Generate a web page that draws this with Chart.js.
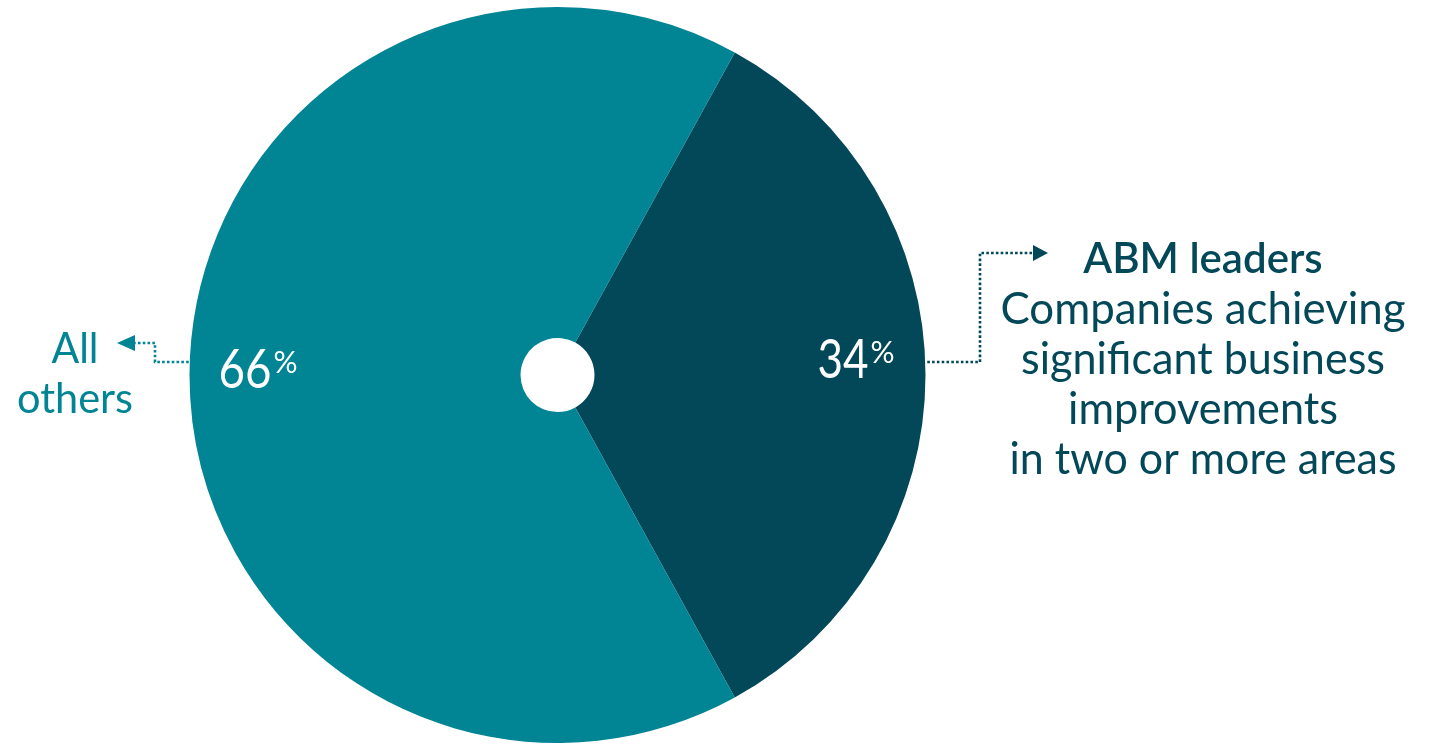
<!DOCTYPE html>
<html>
<head>
<meta charset="utf-8">
<script src="https://cdn.jsdelivr.net/npm/chart.js@4.4.1/dist/chart.umd.min.js"></script>
<style>
  html, body { margin: 0; padding: 0; background: #ffffff; }
  #wrap { width: 1432px; height: 745px; }
</style>
</head>
<body>
<div id="wrap"><canvas id="myChart" width="1432" height="745"></canvas></div>
<script>
// Datos del grafico
const segmentos = ['ABM leaders', 'All others'];
const porcentajes = [34, 66];
const colores = ['#024858', '#018494'];
const tituloDerecha = 'ABM leaders';
const textoDerecha = ['Companies achieving', 'significant business', 'improvements', 'in two or more areas'];
const textoIzquierda = ['All', 'others'];

const FUENTE = 'Lato, "Noto Sans", sans-serif';

// Dibuja una linea punteada
function lineaPunteada(ctx, puntos, color) {
    ctx.save();
    ctx.strokeStyle = color;
    ctx.lineWidth = 2.6;
    ctx.setLineDash([2.6, 2.2]);
    ctx.beginPath();
    ctx.moveTo(puntos[0][0], puntos[0][1]);
    for (let i = 1; i < puntos.length; i++) {
        ctx.lineTo(puntos[i][0], puntos[i][1]);
    }
    ctx.stroke();
    ctx.restore();
}

function flecha(ctx, xBase, xPunta, y, color) {
    ctx.save();
    ctx.fillStyle = color;
    ctx.beginPath();
    ctx.moveTo(xPunta, y);
    ctx.lineTo(xBase, y - 8);
    ctx.lineTo(xBase, y + 8);
    ctx.closePath();
    ctx.fill();
    ctx.restore();
}

// Porcentaje grande con el signo % pequeño arriba
function dibujarPorcentaje(ctx, valor, cx, cy, anchoNum) {
    const num = String(valor);
    ctx.save();
    ctx.fillStyle = '#ffffff';
    ctx.textBaseline = 'alphabetic';
    ctx.textAlign = 'left';
    ctx.font = '300 54px ' + FUENTE;
    const wNum = Math.min(ctx.measureText(num).width, anchoNum);
    ctx.font = '300 30px ' + FUENTE;
    const wPct = Math.min(ctx.measureText('%').width, 25);
    const total = wNum + 2 + wPct;
    const x0 = cx - total / 2;
    const base = cy + 19;
    ctx.font = '400 54px ' + FUENTE;
    ctx.fillText(num, x0, base, anchoNum);
    ctx.font = '400 30px ' + FUENTE;
    ctx.fillText('%', x0 + wNum + 2, base - 15, 25);
    ctx.restore();
}

const etiquetas = {
    id: 'etiquetas',
    afterDraw(chart) {
        const ctx = chart.ctx;
        const meta = chart.getDatasetMeta(0);
        // posicion del texto dentro de cada segmento: fraccion del radio, desplazamiento vertical, ancho del numero
        const ajustes = [[0.81, -16, 51], [0.815, -6, 53]];
        meta.data.forEach((arco, i) => {
            const p = arco.getProps(['x', 'y', 'startAngle', 'endAngle', 'outerRadius'], true);
            const medio = (p.startAngle + p.endAngle) / 2;
            const r = p.outerRadius * ajustes[i][0];
            const cx = p.x + Math.cos(medio) * r;
            const cy = p.y + Math.sin(medio) * r + ajustes[i][1];
            dibujarPorcentaje(ctx, porcentajes[i], cx, cy, ajustes[i][2]);
        });

        const p0 = meta.data[0].getProps(['x', 'y', 'outerRadius'], true);
        const yConector = 362;
        const dx = Math.sqrt(p0.outerRadius * p0.outerRadius - (yConector - p0.y) * (yConector - p0.y));

        // conector derecho
        lineaPunteada(ctx, [[p0.x + dx + 2, yConector], [980, yConector], [980, 253], [1034, 253]], colores[0]);
        flecha(ctx, 1033, 1048, 253, colores[0]);
        // conector izquierdo
        lineaPunteada(ctx, [[p0.x - dx - 1, yConector], [155, yConector], [155, 343], [134, 343]], colores[1]);
        flecha(ctx, 135, 117, 343, colores[1]);

        // textos de la derecha
        ctx.save();
        ctx.textAlign = 'center';
        ctx.textBaseline = 'alphabetic';
        ctx.fillStyle = colores[0];
        ctx.font = '600 42px ' + FUENTE;
        ctx.fillText(tituloDerecha, 1203, 273, 246);
        const anchos = [405, 364, 270, 387];
        ctx.font = '400 44px ' + FUENTE;
        textoDerecha.forEach((linea, i) => {
            ctx.fillText(linea, 1203, 324 + i * 50, anchos[i]);
        });
        ctx.restore();

        // textos de la izquierda
        ctx.save();
        ctx.textAlign = 'center';
        ctx.textBaseline = 'alphabetic';
        ctx.fillStyle = colores[1];
        ctx.font = '400 43px ' + FUENTE;
        const anchosIzq = [47, 116];
        textoIzquierda.forEach((linea, i) => {
            ctx.fillText(linea, 75, 363 + i * 50, anchosIzq[i]);
        });
        ctx.restore();
    }
};

const ctx = document.getElementById('myChart').getContext('2d');
const myChart = new Chart(ctx, {
    type: 'doughnut',
    data: {
        labels: segmentos,
        datasets: [{
            data: porcentajes,
            backgroundColor: colores,
            borderWidth: 0,
            hoverOffset: 0
        }]
    },
    options: {
        responsive: false,
        animation: false,
        rotation: 28.8,
        cutout: 37,
        layout: {
            padding: { left: 189.5, right: 506.5, top: 7, bottom: 2 }
        },
        plugins: {
            legend: { display: false },
            tooltip: { enabled: false }
        }
    },
    plugins: [etiquetas]
});
</script>
</body>
</html>
